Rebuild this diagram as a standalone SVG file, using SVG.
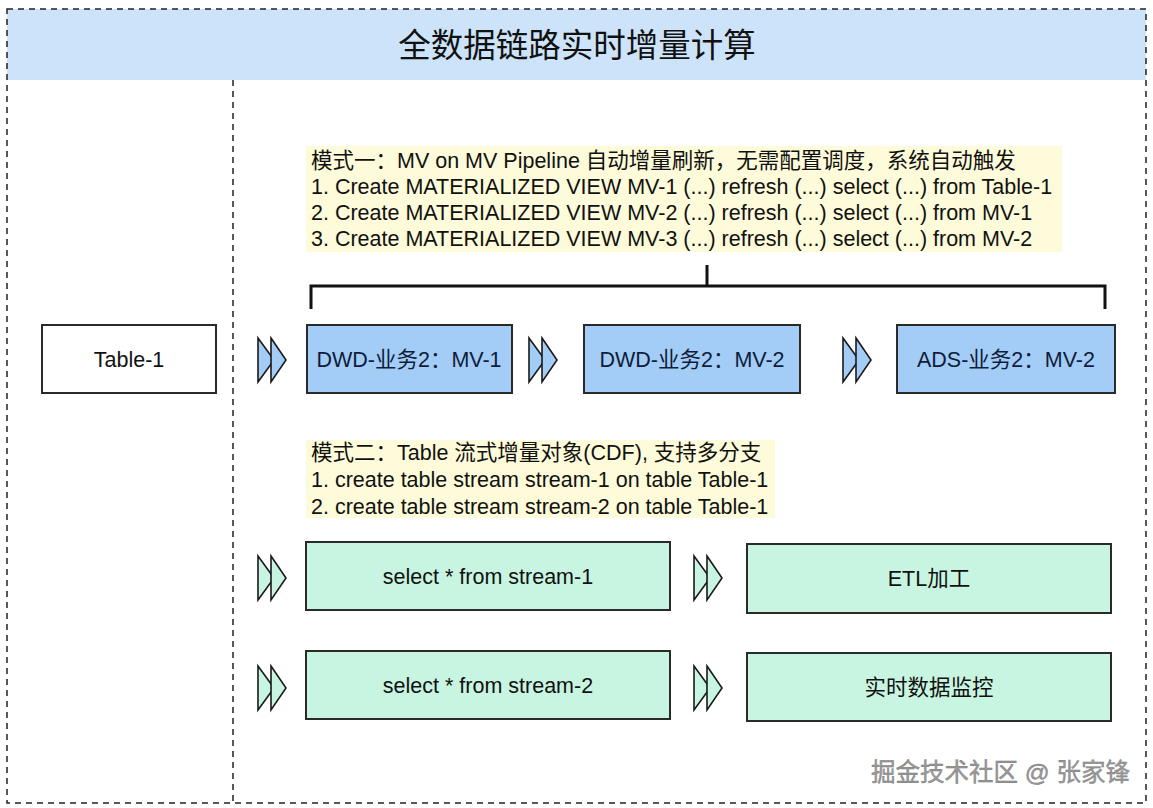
<svg xmlns="http://www.w3.org/2000/svg" width="1153" height="808" viewBox="0 0 1153 808">
<style>
.dash{fill:none;stroke:#222;stroke-width:1.5;stroke-dasharray:6 5}
.box{stroke:#2a2a2a;stroke-width:2}
.blue{fill:#a3cdf6}
.green{fill:#c8f5e1}
.lbl{font-family:"Liberation Sans","Noto Sans CJK SC",sans-serif;font-size:21.5px;text-anchor:middle;fill:#111}
.nav{fill:#0f1c3a}
.note{font-family:"Liberation Sans","Noto Sans CJK SC",sans-serif;font-size:21.5px;fill:#111}
.chev{stroke:#1a1a1a;stroke-width:1.6;stroke-linejoin:miter}
.hl{fill:#fdfbd9}
</style>
<rect width="1153" height="808" fill="#fff"/>
<g id="frame">
<rect x="7" y="9" width="1139" height="71" fill="#cce3f9"/>
<rect class="dash" x="7" y="9" width="1139" height="794"/>
<line class="dash" x1="233" y1="80" x2="233" y2="803"/>
<text x="577" y="57" font-family="'Liberation Sans','Noto Sans CJK SC',sans-serif" font-size="32.5" text-anchor="middle" fill="#111">全数据链路实时增量计算</text>
</g>
<g id="note1">
<rect class="hl" x="306" y="146" width="756" height="106"/>
<text class="note" x="311" y="168">模式一：MV on MV Pipeline 自动增量刷新，无需配置调度，系统自动触发</text>
<text class="note" x="311" y="194">1. Create MATERIALIZED VIEW MV-1 (...) refresh (...) select (...) from Table-1</text>
<text class="note" x="311" y="220">2. Create MATERIALIZED VIEW MV-2 (...) refresh (...) select (...) from MV-1</text>
<text class="note" x="311" y="246">3. Create MATERIALIZED VIEW MV-3 (...) refresh (...) select (...) from MV-2</text>
</g>
<g id="note2">
<rect class="hl" x="306" y="440" width="469" height="78"/>
<text class="note" x="311" y="460">模式二：Table 流式增量对象(CDF), 支持多分支</text>
<text class="note" x="311" y="487">1. create table stream stream-1 on table Table-1</text>
<text class="note" x="311" y="514">2. create table stream stream-2 on table Table-1</text>
</g>
<g id="connectors">
<path d="M311 309 V286 H1105 V309 M707 265 V286" fill="none" stroke="#111" stroke-width="3"/>
<g class="chev blue">
<path d="M258 338 L274 360 L258 382 Z"/><path d="M271 338 L286 360 L271 382 Z"/>
<path d="M529 338 L545 360 L529 382 Z"/><path d="M542 338 L557 360 L542 382 Z"/>
<path d="M843 338 L859 360 L843 382 Z"/><path d="M856 338 L871 360 L856 382 Z"/>
</g>
<g class="chev green">
<path d="M258 556 L274 578 L258 600 Z"/><path d="M271 556 L286 578 L271 600 Z"/>
<path d="M258 666 L274 688 L258 710 Z"/><path d="M271 666 L286 688 L271 710 Z"/>
<path d="M694 556 L710 578 L694 600 Z"/><path d="M707 556 L722 578 L707 600 Z"/>
<path d="M694 666 L710 688 L694 710 Z"/><path d="M707 666 L722 688 L707 710 Z"/>
</g>
</g>
<g id="table1"><rect class="box" x="42" y="325" width="174" height="68" fill="#fff"/><text class="lbl" x="129" y="367">Table-1</text></g>
<g id="mv1"><rect class="box blue" x="307" y="325" width="205" height="68"/><text class="lbl nav" x="409" y="367">DWD-业务2：MV-1</text></g>
<g id="mv2"><rect class="box blue" x="584" y="325" width="216" height="68"/><text class="lbl nav" x="692" y="367">DWD-业务2：MV-2</text></g>
<g id="ads"><rect class="box blue" x="897" y="325" width="218" height="68"/><text class="lbl nav" x="1006" y="367">ADS-业务2：MV-2</text></g>
<g id="s1"><rect class="box green" x="306" y="542" width="364" height="68"/><text class="lbl" x="488" y="584">select * from stream-1</text></g>
<g id="etl"><rect class="box green" x="747" y="544" width="364" height="69"/><text class="lbl" x="929" y="586">ETL加工</text></g>
<g id="s2"><rect class="box green" x="306" y="651" width="364" height="68"/><text class="lbl" x="488" y="693">select * from stream-2</text></g>
<g id="mon"><rect class="box green" x="747" y="653" width="364" height="68"/><text class="lbl" x="929" y="695">实时数据监控</text></g>
<g id="watermark"><text x="1130" y="781" font-family="'Liberation Sans','Noto Sans CJK SC',sans-serif" font-size="24.5" text-anchor="end" fill="#9a9a9a" stroke="#777" stroke-width="0.4">掘金技术社区 @ 张家锋</text></g>
</svg>
